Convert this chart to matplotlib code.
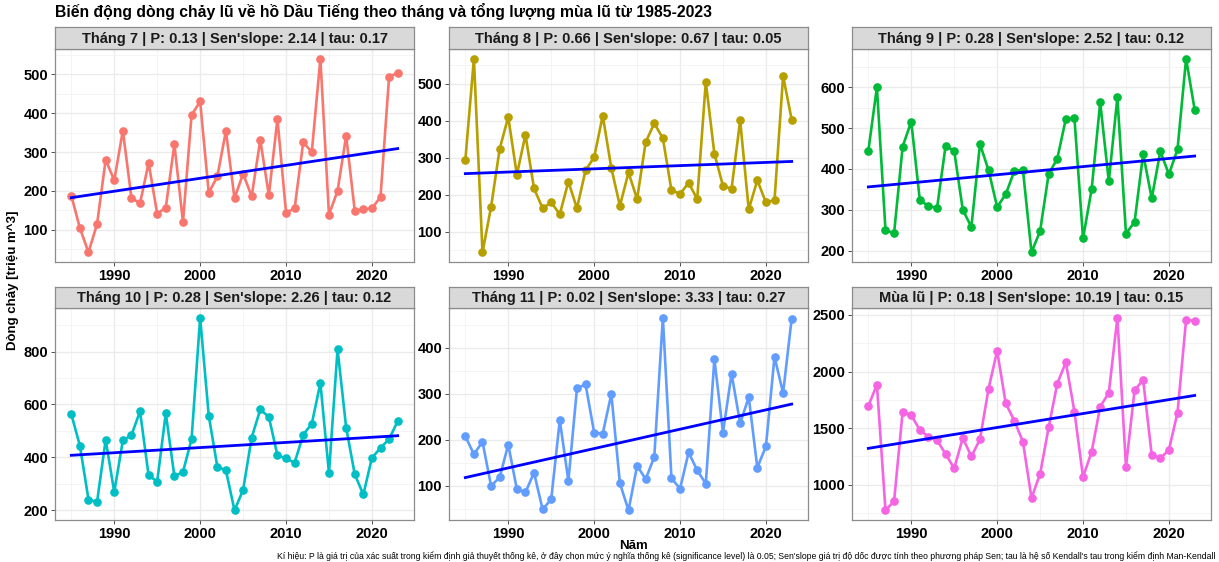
import numpy as np
import matplotlib
matplotlib.use("Agg")
import matplotlib.pyplot as plt
from matplotlib.ticker import MultipleLocator

plt.rcParams["font.family"] = ["Liberation Sans", "DejaVu Sans"]

years = list(range(1985, 2024))

thang7 = [188, 104, 42, 115, 280, 227, 355, 182, 168, 272, 141, 157, 320, 120, 395, 430,
          195, 237, 354, 181, 244, 186, 331, 189, 385, 144, 155, 325, 300, 540, 139, 200,
          342, 149, 153, 155, 184, 494, 503]
thang8 = [293, 568, 44, 167, 324, 410, 254, 362, 217, 163, 179, 147, 235, 163, 266, 301,
          414, 272, 170, 260, 188, 342, 393, 353, 212, 202, 232, 188, 505, 311, 224, 216,
          401, 160, 239, 179, 185, 521, 403]
thang9 = [444, 600, 250, 243, 455, 516, 323, 310, 304, 457, 444, 300, 258, 461, 397, 307,
          338, 395, 398, 196, 248, 388, 425, 523, 524, 230, 350, 563, 370, 575, 242, 270,
          437, 328, 443, 387, 448, 670, 545]
thang10 = [563, 444, 241, 232, 467, 269, 464, 484, 574, 332, 309, 567, 329, 345, 469, 928,
           558, 365, 351, 200, 277, 475, 581, 553, 408, 396, 380, 486, 527, 681, 341, 809,
           513, 336, 260, 398, 436, 469, 537]
thang11 = [207, 168, 195, 99, 118, 189, 92, 85, 128, 48, 70, 242, 110, 311, 320, 215,
           213, 299, 105, 46, 143, 114, 162, 465, 116, 93, 172, 133, 104, 375, 215, 343,
           235, 292, 139, 185, 380, 301, 463]
mua_lu = [1695, 1884, 773, 855, 1645, 1613, 1483, 1424, 1392, 1271, 1144, 1412, 1250, 1400,
          1848, 2182, 1719, 1565, 1380, 882, 1094, 1507, 1893, 2082, 1645, 1068, 1289, 1690,
          1810, 2476, 1159, 1834, 1925, 1262, 1233, 1307, 1637, 2456, 2447]

panel_titles = [
    "Tháng 7 | P: 0.13 | Sen'slope: 2.14 | tau: 0.17",
    "Tháng 8 | P: 0.66 | Sen'slope: 0.67 | tau: 0.05",
    "Tháng 9 | P: 0.28 | Sen'slope: 2.52 | tau: 0.12",
    "Tháng 10 | P: 0.28 | Sen'slope: 2.26 | tau: 0.12",
    "Tháng 11 | P: 0.02 | Sen'slope: 3.33 | tau: 0.27",
    "Mùa lũ | P: 0.18 | Sen'slope: 10.19 | tau: 0.15",
]
series = [thang7, thang8, thang9, thang10, thang11, mua_lu]
colors = ["#F8766D", "#B79F00", "#00BA38", "#00BFC4", "#619CFF", "#F564E3"]
y_steps = [100, 100, 100, 200, 100, 500]

W, H = 1219, 562
fig = plt.figure(figsize=(W / 100, H / 100), dpi=100)


def box(x0, y0, x1, y1):
    # pixel box (top-left origin) -> figure fraction rect
    return [x0 / W, 1 - y1 / H, (x1 - x0) / W, (y1 - y0) / H]


cols = [(55, 414), (449, 808), (852, 1211)]
rows = [(27, 49, 262), (287, 308, 520)]

x = np.array(years, dtype=float)
for i, (vals, title, col, step) in enumerate(zip(series, panel_titles, colors, y_steps)):
    r, c = divmod(i, 3)
    x0, x1 = cols[c]
    s0, p0, p1 = rows[r]
    ax = fig.add_axes(box(x0, p0, x1, p1))
    y = np.array(vals, dtype=float)

    ax.plot(x, y, color=col, lw=1.9, marker="o", ms=5.2, zorder=3)
    # linear trend line
    k, b = np.polyfit(x, y, 1)
    ax.plot(x, k * x + b, color="#0000FF", lw=2.0, zorder=4)

    span = x.max() - x.min()
    ax.set_xlim(x.min() - 0.05 * span, x.max() + 0.05 * span)
    yr = y.max() - y.min()
    ax.set_ylim(y.min() - 0.05 * yr, y.max() + 0.05 * yr)

    ax.xaxis.set_major_locator(MultipleLocator(10))
    ax.xaxis.set_minor_locator(MultipleLocator(5))
    ax.yaxis.set_major_locator(MultipleLocator(step))
    ax.yaxis.set_minor_locator(MultipleLocator(step / 2))
    ax.grid(which="major", color="#EBEBEB", lw=1.0, zorder=0)
    ax.grid(which="minor", color="#F3F3F3", lw=0.6, zorder=0)
    ax.set_axisbelow(True)
    ax.tick_params(which="major", length=3, width=0.6, color="#333333",
                   labelsize=10.5, pad=2)
    ax.tick_params(which="minor", length=0)
    for lab in ax.get_xticklabels() + ax.get_yticklabels():
        lab.set_fontweight("bold")
    for sp in ax.spines.values():
        sp.set_color("#8C8C8C")
        sp.set_linewidth(0.9)

    # facet strip
    st = fig.add_axes(box(x0, s0, x1, p0))
    st.set_facecolor("#D9D9D9")
    st.set_xticks([]); st.set_yticks([])
    for sp in st.spines.values():
        sp.set_color("#8C8C8C")
        sp.set_linewidth(0.9)
    st.text(0.5, 0.47, title, ha="center", va="center", fontsize=10.5,
            fontweight="bold", color="#1A1A1A", transform=st.transAxes)

fig.text(55 / W, 1 - 12 / H, "Biến động dòng chảy lũ về hồ Dầu Tiếng theo tháng và tổng lượng mùa lũ từ 1985-2023",
         ha="left", va="center", fontsize=11.35, fontweight="bold")
fig.text(13 / W, 1 - 280 / H, "Dòng chảy [triệu m^3]", rotation=90, ha="center",
         va="center", fontsize=9.5, fontweight="bold")
fig.text(633 / W, 1 - 546 / H, "Năm", ha="center", va="center", fontsize=9.5,
         fontweight="bold")
fig.text(1215 / W, 1 / H,
         "Kí hiệu: P là giá trị của xác suất trong kiểm định giả thuyết thống kê, ở đây chọn mức ý nghĩa "
         "thống kê (significance level) là 0.05; Sen'slope giá trị độ dốc được tính theo phương pháp Sen; "
         "tau là hệ số Kendall's tau trong kiểm định Man-Kendall",
         ha="right", va="bottom", fontsize=6.2)

fig.savefig("out.png", dpi=100, facecolor="white")
